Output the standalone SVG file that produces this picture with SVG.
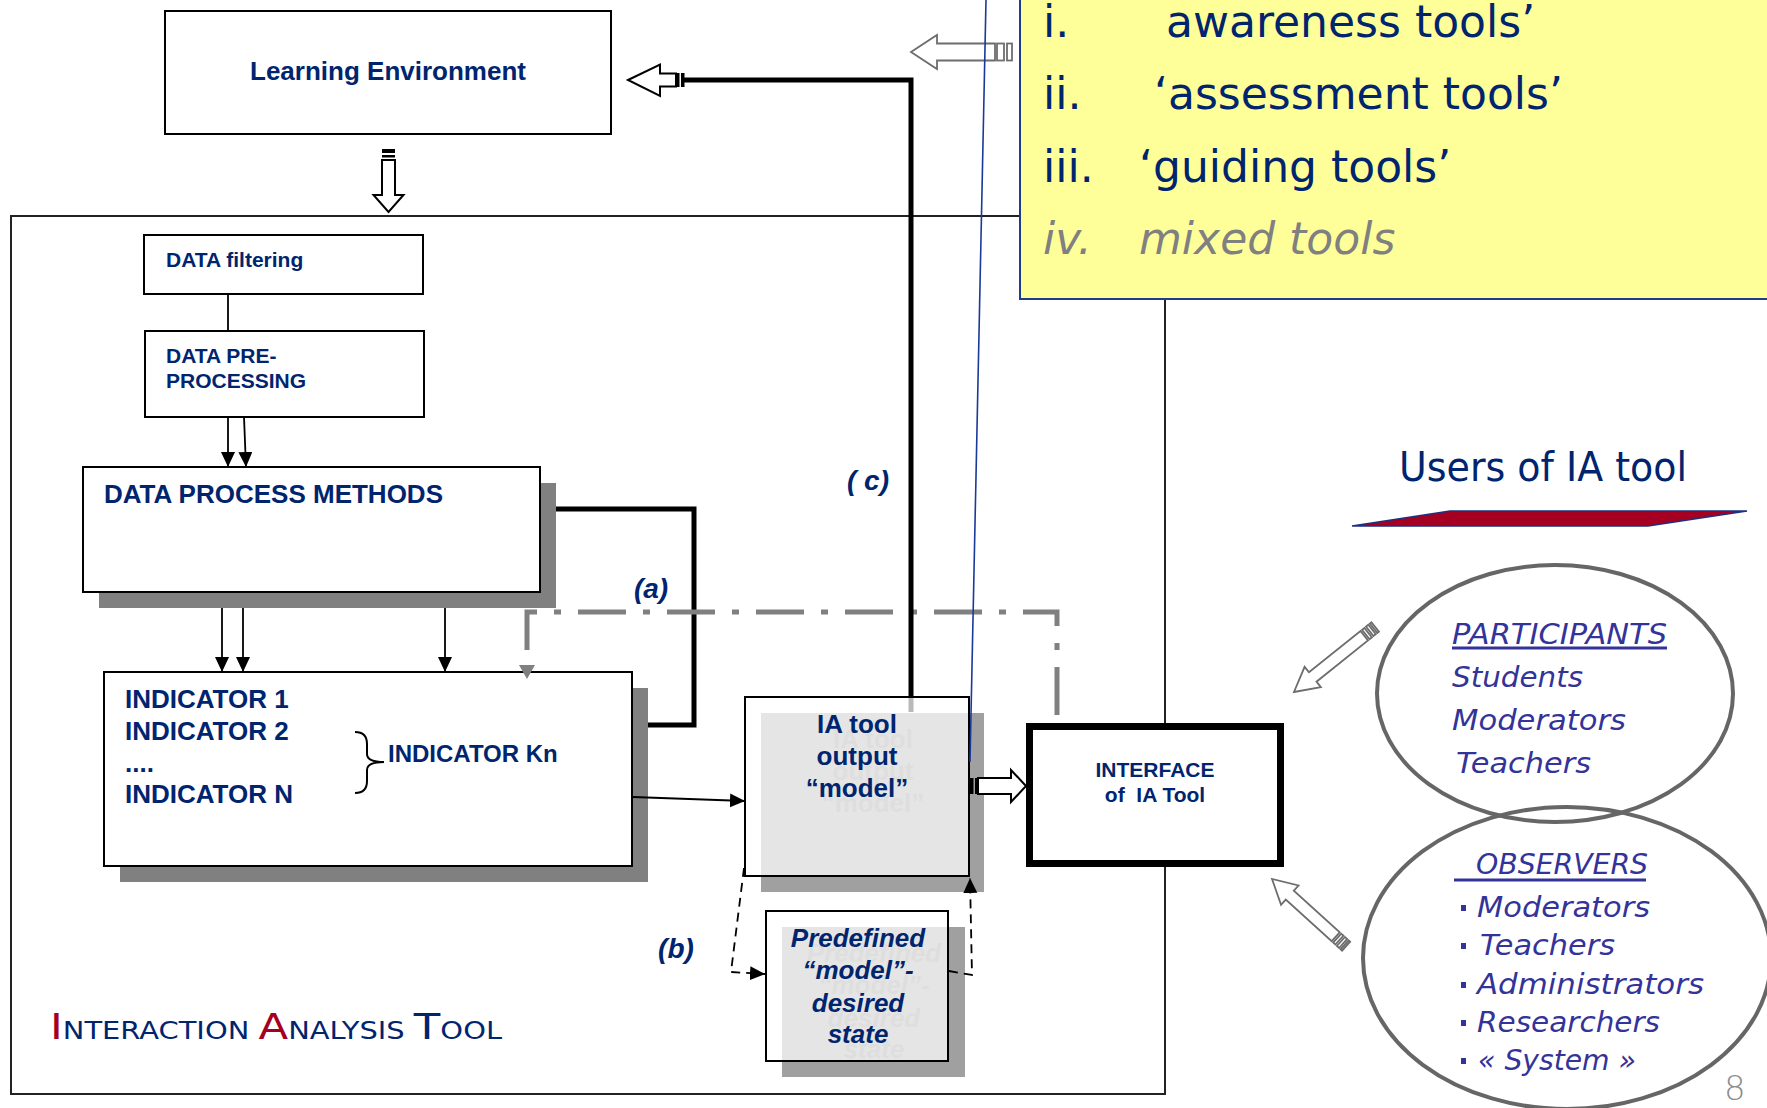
<svg xmlns="http://www.w3.org/2000/svg" width="1767" height="1108" viewBox="0 0 1767 1108">
  <defs>
    <style>
      .ar { font-family: "Liberation Sans", Arial, sans-serif; font-weight: bold; fill: #00256e; }
      .ari { font-family: "Liberation Sans", Arial, sans-serif; font-weight: bold; font-style: italic; fill: #00256e; }
      .ghost { font-family: "Liberation Sans", Arial, sans-serif; font-weight: bold; fill: #8a8a8a; }
      .ghosti { font-family: "Liberation Sans", Arial, sans-serif; font-weight: bold; font-style: italic; fill: #8a8a8a; }
      .vd { font-family: "DejaVu Sans", Verdana, sans-serif; fill: #00256e; }
      .usr { font-family: "DejaVu Sans", Verdana, sans-serif; font-style: italic; fill: #333399; font-size: 28px; }
      .box { fill: #ffffff; stroke: #000000; stroke-width: 2; }
      .glass { fill: #ffffff; fill-opacity: 0.72; stroke: #000000; stroke-width: 2; }
      .shadow { fill: #808080; }
      .shadow2 { fill: #a0a0a0; }
      .thin { fill: none; stroke: #000000; stroke-width: 1.8; }
      .thick { fill: none; stroke: #000000; stroke-width: 5; stroke-linejoin: miter; }
      .dash { fill: none; stroke: #000000; stroke-width: 1.8; stroke-dasharray: 9 6; }
      .dashdot { fill: none; stroke: #808080; stroke-width: 5; stroke-dasharray: 48 17 7 17; }
      .hollow { fill: #ffffff; stroke: #000000; stroke-width: 2; }
      .hollowg { fill: #ffffff; stroke: #6d6d6d; stroke-width: 1.8; }
      .ell { fill: none; stroke: #666666; stroke-width: 4; }
    </style>
    <marker id="ah" markerUnits="userSpaceOnUse" markerWidth="16" markerHeight="15" refX="15" refY="7" orient="auto">
      <path d="M0,0 L15,7 L0,14 z" fill="#000000"/>
    </marker>
    <marker id="ahg" markerUnits="userSpaceOnUse" markerWidth="16" markerHeight="17" refX="1" refY="8" orient="auto">
      <path d="M0,0 L14,8 L0,16 z" fill="#808080"/>
    </marker>
  </defs>

  <rect x="0" y="0" width="1767" height="1108" fill="#ffffff"/>

  <!-- outer frame of the analysis tool -->
  <g id="ia-frame">
    <rect x="11" y="216" width="1154" height="878" fill="none" stroke="#222222" stroke-width="2"/>
    <text x="50" y="1039" textLength="452" lengthAdjust="spacingAndGlyphs" font-family="DejaVu Sans, Verdana, sans-serif" fill="#00256e"><tspan font-size="36" fill="#a50021">I</tspan><tspan font-size="24">NTERACTION </tspan><tspan font-size="36" fill="#a50021">A</tspan><tspan font-size="24">NALYSIS </tspan><tspan font-size="36">T</tspan><tspan font-size="24">OOL</tspan></text>
  </g>

  <!-- nodes -->
  <g id="learning-environment">
    <rect class="box" x="165" y="11" width="446" height="123"/>
    <text class="ar" x="388" y="80" font-size="26" text-anchor="middle">Learning Environment</text>
  </g>

  <g id="data-filtering">
    <rect class="box" x="144" y="235" width="279" height="59"/>
    <text class="ar" x="166" y="267" font-size="21">DATA filtering</text>
  </g>

  <g id="data-preprocessing">
    <rect class="box" x="145" y="331" width="279" height="86"/>
    <text class="ar" x="166" y="363" font-size="21">DATA PRE-</text>
    <text class="ar" x="166" y="388" font-size="21">PROCESSING</text>
  </g>

  <g id="data-process-methods">
    <rect class="shadow" x="99" y="483" width="457" height="125"/>
    <rect class="box" x="83" y="467" width="457" height="125"/>
    <text class="ar" x="104" y="503" font-size="26">DATA PROCESS METHODS</text>
  </g>

  <g id="indicators">
    <rect class="shadow" x="120" y="688" width="528" height="194"/>
    <rect class="box" x="104" y="672" width="528" height="194"/>
    <text class="ar" x="125" y="708" font-size="26">INDICATOR 1</text>
    <text class="ar" x="125" y="740" font-size="26">INDICATOR 2</text>
    <text class="ar" x="125" y="772" font-size="26">....</text>
    <text class="ar" x="125" y="803" font-size="26">INDICATOR N</text>
    <path d="M355,732 Q367,732 367,744 L367,754 Q367,762 384,762 Q367,762 367,770 L367,781 Q367,793 355,793" fill="none" stroke="#000000" stroke-width="2"/>
    <text class="ar" x="388" y="762" font-size="24">INDICATOR Kn</text>
  </g>

  <g id="ia-output-model">
    <rect class="shadow2" x="761" y="713" width="223" height="179"/>
    <g class="ghost" font-size="26" text-anchor="middle">
      <text x="873" y="748">IA tool</text>
      <text x="873" y="780">output</text>
      <text x="873" y="812">“model”</text>
    </g>
    <rect class="glass" x="745" y="697" width="224" height="179"/>
    <g class="ar" font-size="26" text-anchor="middle">
      <text x="857" y="733">IA tool</text>
      <text x="857" y="765">output</text>
      <text x="857" y="797">“model”</text>
    </g>
  </g>

  <g id="predefined-model">
    <rect class="shadow2" x="782" y="927" width="183" height="150"/>
    <g class="ghosti" font-size="26" text-anchor="middle">
      <text x="874" y="962">Predefined</text>
      <text x="874" y="994">“model”-</text>
      <text x="874" y="1027">desired</text>
      <text x="874" y="1058">state</text>
    </g>
    <rect class="glass" x="766" y="911" width="182" height="150"/>
    <g class="ari" font-size="26" text-anchor="middle">
      <text x="858" y="947">Predefined</text>
      <text x="858" y="979">“model”-</text>
      <text x="858" y="1012">desired</text>
      <text x="858" y="1043">state</text>
    </g>
  </g>

  <g id="interface">
    <rect x="1029.5" y="726.5" width="251" height="137" fill="#ffffff" stroke="#000000" stroke-width="7"/>
    <text class="ar" x="1155" y="777" font-size="21" text-anchor="middle">INTERFACE</text>
    <text class="ar" x="1155" y="802" font-size="21" text-anchor="middle">of&#160; IA Tool</text>
  </g>

  <!-- connectors -->
  <g id="connectors">
    <line class="thin" x1="228" y1="294" x2="228" y2="331" stroke-width="1.5"/>
    <path class="thin" d="M228,417 L228,467" stroke-width="2" marker-end="url(#ah)"/>
    <path class="thin" d="M244,417 L246,467" stroke-width="2" marker-end="url(#ah)"/>
    <path class="thin" d="M222,608 L222,672" stroke-width="2" marker-end="url(#ah)"/>
    <path class="thin" d="M243,608 L243,672" stroke-width="2" marker-end="url(#ah)"/>
    <path class="thin" d="M445,608 L445,672" stroke-width="2" marker-end="url(#ah)"/>
    <path class="thin" d="M633,797 L745,801" marker-end="url(#ah)"/>

    <!-- (a) feedback loop -->
    <path class="thick" d="M556,509 H694 V725 H648"/>
    <path class="dashdot" d="M1057,715 V612 H527 V666" marker-end="url(#ahg)"/>

    <!-- (c) return path to the learning environment -->
    <path class="thick" d="M684,80 H911 V697"/>
    <line x1="911" y1="698" x2="911" y2="712" stroke="#b9b9b9" stroke-width="5"/>
    <polygon class="hollow" points="628,80 660,64.5 660,73.5 676,73.5 676,86.5 660,86.5 660,96"/>
    <rect x="676" y="73" width="3.5" height="14" fill="#000000"/>
    <rect x="681" y="73" width="3.5" height="14" fill="#000000"/>

    <!-- learning environment feeds the tool -->
    <polygon class="hollow" points="382,160 395,160 395,195 403.5,195 388.5,212 373.5,195 382,195" stroke-width="1.5"/>
    <rect x="382" y="149" width="13" height="4" fill="#000000"/>
    <rect x="382" y="155" width="13" height="2.5" fill="#000000"/>

    <!-- (b) comparison with the desired state -->
    <path class="dash" d="M744,868 L731,972 L765,974" marker-end="url(#ah)"/>
    <path class="dash" d="M949,971 L972,975 L970,878" marker-end="url(#ah)"/>

    <!-- output to the interface -->
    <polygon class="hollow" points="978,778 1011,778 1011,770 1026,786 1011,802 1011,794 978,794"/>
    <rect x="970" y="778" width="3.5" height="16" fill="#000000"/>
    <rect x="975" y="778" width="3" height="16" fill="#000000"/>

    <!-- user arrows -->
    <g transform="translate(1294,692) rotate(141.3)">
      <polygon class="hollowg" points="0,0 -24,-13 -24,-6 -90,-6 -90,6 -24,6 -24,13"/>
      <rect class="hollowg" x="-95" y="-6" width="3" height="12"/>
      <rect class="hollowg" x="-100" y="-6" width="3" height="12"/>
      <rect class="hollowg" x="-104" y="-6" width="2" height="12"/>
    </g>
    <g transform="translate(1272,879) rotate(-137.8)">
      <polygon class="hollowg" points="0,0 -24,-13 -24,-6 -86,-6 -86,6 -24,6 -24,13"/>
      <rect class="hollowg" x="-91" y="-6" width="3" height="12"/>
      <rect class="hollowg" x="-96" y="-6" width="3" height="12"/>
      <rect class="hollowg" x="-100" y="-6" width="2" height="12"/>
    </g>

    <!-- arrow towards the tool types -->
    <polygon class="hollowg" points="911,52 937,35 937,43.5 995,43.5 995,60.5 937,60.5 937,69" stroke-width="2"/>
    <rect class="hollowg" x="997" y="43.5" width="7" height="17" stroke-width="2"/>
    <rect class="hollowg" x="1007" y="43.5" width="5" height="17" stroke-width="2"/>
  </g>

  <!-- path labels -->
  <g id="labels">
    <text class="ari" x="651" y="598" font-size="28" text-anchor="middle">(a)</text>
    <text class="ari" x="676" y="958" font-size="28" text-anchor="middle">(b)</text>
    <text class="ari" x="868" y="490" font-size="28" text-anchor="middle">( c)</text>
  </g>

  <!-- users -->
  <g id="users-title">
    <text class="vd" x="1399" y="481" font-size="40" textLength="288" lengthAdjust="spacingAndGlyphs">Users of IA tool</text>
    <polygon points="1352,526 1450,511 1747,511 1648,526" fill="#a50021" stroke="#1f2f7f" stroke-width="1.5"/>
  </g>

  <g id="participants">
    <ellipse class="ell" cx="1555" cy="693.5" rx="178" ry="128.5"/>
    <text class="usr" x="1452" y="644" textLength="215" lengthAdjust="spacingAndGlyphs">PARTICIPANTS</text>
    <rect x="1452" y="646.5" width="215" height="3" fill="#333399"/>
    <text class="usr" x="1452" y="687" textLength="131" lengthAdjust="spacingAndGlyphs">Students</text>
    <text class="usr" x="1452" y="730" textLength="174" lengthAdjust="spacingAndGlyphs">Moderators</text>
    <text class="usr" x="1456" y="773" textLength="135" lengthAdjust="spacingAndGlyphs">Teachers</text>
  </g>

  <g id="observers">
    <ellipse class="ell" cx="1567" cy="958" rx="204" ry="151"/>
    <text class="usr" x="1476" y="874" textLength="172" lengthAdjust="spacingAndGlyphs">OBSERVERS</text>
    <rect x="1454" y="878.5" width="192" height="3" fill="#333399"/>
    <g fill="#333399">
      <rect x="1461" y="905" width="5" height="6"/>
      <rect x="1461" y="943" width="5" height="6"/>
      <rect x="1461" y="982" width="5" height="6"/>
      <rect x="1461" y="1020" width="5" height="6"/>
      <rect x="1461" y="1058" width="5" height="6"/>
    </g>
    <text class="usr" x="1477" y="917" textLength="173" lengthAdjust="spacingAndGlyphs">Moderators</text>
    <text class="usr" x="1480" y="955" textLength="135" lengthAdjust="spacingAndGlyphs">Teachers</text>
    <text class="usr" x="1477" y="994" textLength="227" lengthAdjust="spacingAndGlyphs">Administrators</text>
    <text class="usr" x="1477" y="1032" textLength="183" lengthAdjust="spacingAndGlyphs">Researchers</text>
    <text class="usr" x="1478" y="1070" textLength="158" lengthAdjust="spacingAndGlyphs">« System »</text>
  </g>

  <!-- thin blue callout line -->
  <line x1="986" y1="0" x2="970" y2="762" stroke="#1a3a9a" stroke-width="1.6"/>

  <!-- tool types note -->
  <g id="tool-types">
    <rect x="1020" y="-5" width="760" height="304" fill="#ffff99" stroke="#1f3d8c" stroke-width="2"/>
    <g class="vd" font-size="44">
      <text x="1043" y="37">i.</text>
      <text x="1166" y="37">awareness tools’</text>
      <text x="1043" y="109">ii.</text>
      <text x="1154" y="109">‘assessment tools’</text>
      <text x="1043" y="182">iii.</text>
      <text x="1139" y="182">‘guiding tools’</text>
      <text x="1043" y="254" font-style="italic" fill="#808080">iv.</text>
      <text x="1139" y="254" font-style="italic" fill="#808080">mixed tools</text>
    </g>
  </g>

  <text x="1724" y="1100" font-family="DejaVu Sans, Verdana, sans-serif" font-weight="200" font-size="34" fill="#8c8c8c">8</text>
</svg>
